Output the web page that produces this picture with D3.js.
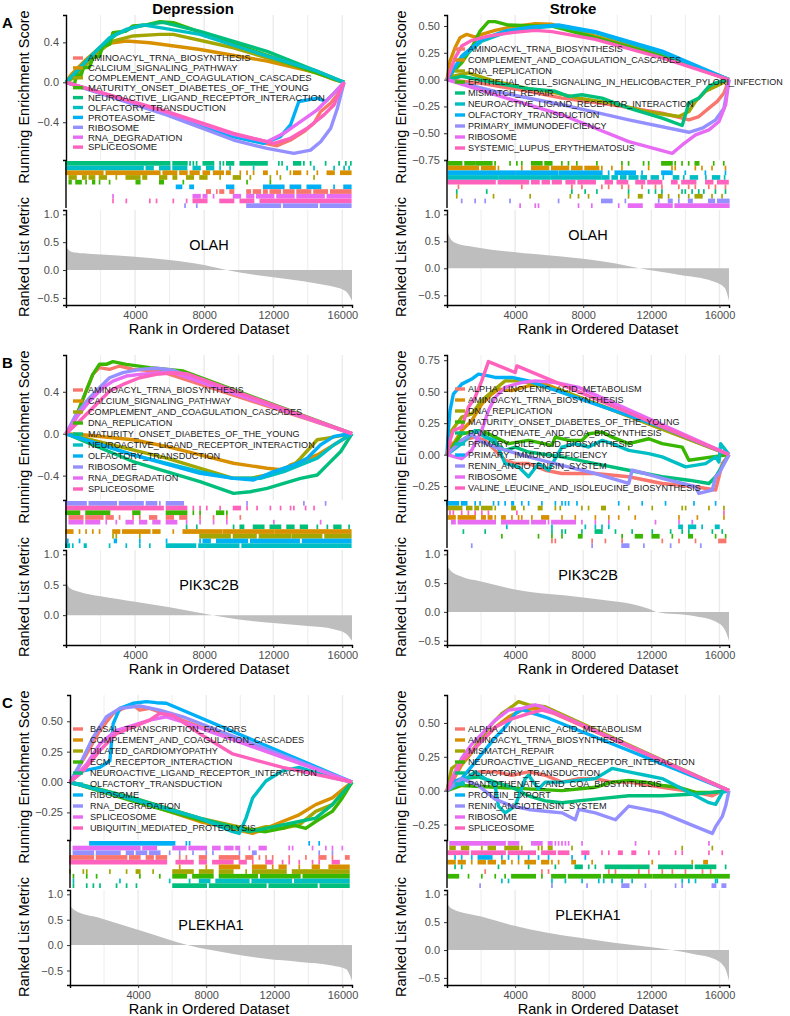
<!DOCTYPE html>
<html>
<head>
<meta charset="utf-8" />
<title>GSEA Depression / Stroke</title>
<script src="https://d3js.org/d3.v7.min.js"></script>
<style>
  body { margin: 0; background: #ffffff; }
  svg text { font-family: 'Liberation Sans', Arial, sans-serif; }
</style>
</head>
<body>
<svg id="viz" width="790" height="1016"></svg>
<script>

// ---------- shared ----------
var maxRank = 16560;
var hue10 = ["#F8766D","#D89000","#A3A500","#39B600","#00BF7D","#00BFC4","#00B0F6","#9590FF","#E76BF3","#FF62BC"];
var diseases = ["Depression", "Stroke"];
var rowLetters = ["A", "B", "C"];
var geneNames = ["OLAH", "PIK3C2B", "PLEKHA1"];
var rankTicksX = [4000, 8000, 12000, 16000];

// ---------- A: Depression / OLAH ----------
var depOlahTerms = ["AMINOACYL_TRNA_BIOSYNTHESIS","CALCIUM_SIGNALING_PATHWAY","COMPLEMENT_AND_COAGULATION_CASCADES","MATURITY_ONSET_DIABETES_OF_THE_YOUNG","NEUROACTIVE_LIGAND_RECEPTOR_INTERACTION","OLFACTORY_TRANSDUCTION","PROTEASOME","RIBOSOME","RNA_DEGRADATION","SPLICEOSOME"];
var depOlahES = [
  [[0,0],[5820,-0.309],[9700,-0.544],[12222,-0.635],[12998,-0.578],[13774,-0.494],[14356,-0.41],[14744,-0.292],[15326,-0.208],[15714,-0.124],[16100,0]],
  [[0,0],[291,0.077],[679,0.144],[1164,0.228],[1940,0.346],[2716,0.396],[3492,0.413],[4850,0.396],[7760,0.329],[11640,0.212],[14550,0.094],[15520,0.027],[16100,0]],
  [[0,0],[582,0.06],[1164,0.178],[1940,0.312],[2716,0.413],[3880,0.464],[5432,0.48],[6208,0.48],[9700,0.346],[13580,0.144],[16100,0]],
  [[0,0],[485,-0.017],[621,0.071],[873,0.071],[1009,0.144],[1358,0.151],[1552,0.245],[1940,0.262],[2134,0.363],[2522,0.38],[2716,0.497],[3492,0.514],[3880,0.564],[4656,0.575],[5432,0.608],[6208,0.598],[16100,0]],
  [[0,0],[582,0.094],[1164,0.212],[1940,0.346],[2910,0.48],[3880,0.548],[5044,0.588],[5626,0.6],[7760,0.51],[11640,0.31],[14550,0.11],[16100,0]],
  [[0,0],[776,0.144],[1552,0.279],[2522,0.447],[3492,0.531],[4462,0.575],[5432,0.548],[7760,0.48],[11640,0.262],[14550,0.111],[16100,0]],
  [[0,0],[5820,-0.309],[9700,-0.544],[11446,-0.612],[12416,-0.544],[12998,-0.427],[13483,-0.192],[14550,-0.158],[15035,-0.192],[15520,-0.108],[16100,0]],
  [[0,0],[5820,-0.326],[9700,-0.578],[11640,-0.662],[13192,-0.712],[14162,-0.679],[14744,-0.595],[15326,-0.46],[15714,-0.26],[16100,0]],
  [[0,0],[5820,-0.302],[9700,-0.521],[11640,-0.595],[12610,-0.511],[13580,-0.393],[14550,-0.275],[15520,-0.108],[16100,0]],
  [[0,0],[5820,-0.292],[9700,-0.511],[12028,-0.612],[12998,-0.561],[13968,-0.46],[14938,-0.326],[15520,-0.225],[16100,0]]
];
var depOlahHits = [
  [[8150,8350],[8730],[8920,9120],[9500,9700],[10480,10670],[10860,11250],[11450,11640],[11830,12410],[12600,13190],[13380,14160],[14360,15130],[15330,16490]],
  [[0,2130],[2330,5430],[5630,6400],[6600,7000],[7200,7700],[7950,8300],[8550,9100],[9300,9500],[10090],[10480],[10860],[11450,11640],[12220],[12990],[13190,13580],[13970],[14550],[15130,15520],[15910,16490]],
  [[190,580],[970,1160],[1350,1650],[1940,2330],[2910],[3490,4270],[4460,4660],[5430,5820],[6210,6400],[6990,7370],[7760,8150],[8920],[9700,10090],[10670],[11830],[12410],[14360]],
  [[190,290],[580,870],[1160],[1550,1650],[1940],[2520],[4070,4270],[5430,5630],[6790],[10480],[11830]],
  [[0,6000],[6200,7000],[7180],[7370],[7560],[7950,8540],[8920],[9110],[9310,9700],[10090,11640],[12320],[12510],[13190,13580],[13770],[14160],[15030],[15810],[16200],[16490]],
  [[0,4460],[4650,5040],[5430,6010],[6200,6980],[7370,7760],[8150,8540],[8920],[9500],[10860],[12800],[14360],[15520],[16100],[16390]],
  [[6400,6690],[7180,7370],[9310,9700],[11450,12610],[12990,13580],[13970,14740],[15520],[16100,16490]],
  [[6890],[7570],[10480,12410],[12600,14550],[14740,16490]],
  [[2720],[7370,7760],[7950,8150],[8540],[9700,10090],[10480,10860],[11050,12020],[12220,13190],[13380,14940],[15130,16490]],
  [[2720],[3490],[4850],[5240],[6210],[6980],[7370,8150],[8920,9700],[10090,10860],[11250,16490]]
];
var depOlahRug = [4,5,1,2,3,6,0,8,9,7];
var depOlahMetric = [[1,0.42],[300,0.33],[1000,0.3],[2000,0.28],[4000,0.24],[6000,0.18],[8000,0.09],[9300,0],[11000,-0.09],[13000,-0.17],[14500,-0.24],[15500,-0.3],[16200,-0.38],[16560,-0.55]];
var depOlahEsTicks = [0.4, 0, -0.4];
var depOlahRankTicks = [1, 0.5, 0, -0.5];

// ---------- A: Stroke / OLAH ----------
var strokeOlahTerms = ["AMINOACYL_TRNA_BIOSYNTHESIS","COMPLEMENT_AND_COAGULATION_CASCADES","DNA_REPLICATION","EPITHELIAL_CELL_SIGNALING_IN_HELICOBACTER_PYLORI_INFECTION","MISMATCH_REPAIR","NEUROACTIVE_LIGAND_RECEPTOR_INTERACTION","OLFACTORY_TRANSDUCTION","PRIMARY_IMMUNODEFICIENCY","RIBOSOME","SYSTEMIC_LUPUS_ERYTHEMATOSUS"];
var strokeOlahES = [
  [[0,0],[1844,-0.031],[4787,-0.109],[6749,-0.172],[9692,-0.234],[12635,-0.313],[14205,-0.375],[14793,-0.344],[15382,-0.266],[15873,-0.203],[16265,-0.125],[16560,0]],
  [[0,0],[177,0.172],[471,0.297],[765,0.391],[1158,0.422],[1648,0.397],[2040,0.422],[2825,0.459],[3806,0.491],[5180,0.522],[6161,0.516],[8711,0.406],[12635,0.234],[16560,0]],
  [[0,0],[275,0.031],[1256,0.063],[2825,-0.016],[4787,-0.084],[6161,-0.116],[7730,-0.172],[9692,-0.219],[11654,-0.297],[13616,-0.344],[14205,-0.297],[14597,-0.203],[15186,-0.109],[15774,-0.063],[16560,0]],
  [[0,0],[373,0.078],[863,0.156],[1452,0.297],[1942,0.453],[2433,0.541],[2825,0.541],[3610,0.509],[5180,0.5],[6161,0.5],[8711,0.391],[12635,0.219],[16560,0]],
  [[0,0],[863,0.031],[2825,-0.031],[4787,-0.084],[6357,-0.109],[7142,-0.156],[7926,-0.141],[9104,-0.172],[10673,-0.266],[12635,-0.359],[13812,-0.428],[14205,-0.219],[14793,-0.172],[15382,-0.063],[15774,-0.031],[16560,0]],
  [[0,0],[863,0.203],[2040,0.359],[3414,0.438],[4787,0.478],[6357,0.5],[8711,0.438],[12635,0.25],[16560,0]],
  [[0,0],[863,0.219],[2040,0.375],[3414,0.453],[4983,0.491],[6553,0.509],[8711,0.447],[12635,0.266],[16560,0]],
  [[0,0],[2825,-0.109],[6749,-0.234],[10673,-0.375],[14205,-0.491],[14990,-0.453],[15774,-0.375],[16265,-0.266],[16560,0]],
  [[0,0],[2825,-0.141],[6749,-0.328],[10673,-0.578],[13224,-0.688],[13812,-0.609],[14597,-0.516],[15382,-0.469],[15971,-0.391],[16363,-0.234],[16560,0]],
  [[0,0],[471,0.203],[863,0.313],[1452,0.366],[2433,0.406],[3806,0.438],[5180,0.459],[6161,0.447],[8711,0.375],[12635,0.203],[16560,0]]
];
var strokeOlahHits = [
  [[670],[4390],[7330],[7920],[9090],[9490],[10270],[10660],[11450],[12240],[12620],[13610],[14190],[14580],[15370],[15760],[16350]],
  [[80,1840],[2040,2820],[3020],[4390],[4980,5960],[6150,7130],[7330,7920],[8110,8900],[9090],[9680],[10270],[11840],[13210],[13400],[14580],[14970],[15560],[16350]],
  [[570],[2730],[4880],[7240],[7720],[8310],[10660],[11250,11450],[12430,12620],[13010],[13610],[14190],[14580,14970],[15560],[16150]],
  [[80,860],[1060,1650],[1750,2630],[2820],[3700],[4100],[4390],[4980,5570],[5760,6150],[6740],[7130],[7620],[8800],[10270],[10660],[11540],[11840],[12620,13210],[13400],[13800],[14190],[14580,14780],[15660],[16250]],
  [[570],[2330],[7330],[8110],[8800],[10660],[11840],[12240],[12620],[13800],[13990],[14390],[14780],[15080],[15760],[16350]],
  [[80,3000],[3100,6000],[6100,9000],[9100,9500],[9700,10000],[10200,10500],[10700,11200],[11400,11700],[12000,12400],[12700],[13300,13600],[13900],[14300,14700],[15200],[15600,16000],[16300]],
  [[80,4000],[4100,6500],[6600,9090],[9490],[9880,11050],[11450],[12620,13210],[13990],[15170],[16350]],
  [[860],[1650],[2240],[3700],[6550],[9090,9680],[10470],[12430],[13010,13210],[13610],[14190,14390],[15370,15700],[15900,16550]],
  [[4290],[5180],[5370],[7720],[8500],[10080],[10660,11450],[12240,13210],[13400,16550]],
  [[80,2820],[3020,4780],[4980,5400],[5600,6000],[6200,6700],[7000,7500],[7700,8700],[9300,9700],[10000,10600],[11100,11600],[11800,12600],[13200,13500],[13800,14600],[15200,15600],[15900,16500]]
];
var strokeOlahRug = [3,1,6,5,9,0,4,2,7,8];
var strokeOlahMetric = [[1,0.7],[200,0.55],[500,0.47],[1500,0.4],[3900,0.3],[7850,0.18],[10700,0.04],[11300,0],[13600,-0.12],[15600,-0.24],[16300,-0.36],[16560,-0.6]];
var strokeOlahEsTicks = [0.5, 0.25, 0, -0.25, -0.5, -0.75];
var strokeOlahRankTicks = [1, 0.5, 0, -0.5];

// ---------- B: Depression / PIK3C2B ----------
var depPikTerms = ["AMINOACYL_TRNA_BIOSYNTHESIS","CALCIUM_SIGNALING_PATHWAY","COMPLEMENT_AND_COAGULATION_CASCADES","DNA_REPLICATION","MATURITY_ONSET_DIABETES_OF_THE_YOUNG","NEUROACTIVE_LIGAND_RECEPTOR_INTERACTION","OLFACTORY_TRANSDUCTION","RIBOSOME","RNA_DEGRADATION","SPLICEOSOME"];
var depPikES = [
  [[0,0],[582,0.15],[1164,0.406],[1552,0.566],[1940,0.63],[2522,0.614],[3104,0.646],[3880,0.614],[4656,0.605],[5432,0.598],[16560,0]],
  [[0,0],[970,-0.01],[3880,-0.058],[5820,-0.122],[7760,-0.202],[9700,-0.282],[11640,-0.33],[12610,-0.346],[12998,-0.298],[13580,-0.266],[14550,-0.202],[15520,-0.106],[16560,0]],
  [[0,0],[5820,-0.234],[9700,-0.426],[10670,-0.426],[11640,-0.394],[12610,-0.33],[13192,-0.298],[13580,-0.234],[14550,-0.058],[15132,-0.042],[16560,0]],
  [[0,0],[388,0.086],[776,0.246],[1164,0.406],[1552,0.566],[1940,0.662],[2328,0.662],[2716,0.688],[3492,0.662],[4850,0.63],[6790,0.598],[16560,0]],
  [[0,0],[3880,-0.266],[7760,-0.458],[9700,-0.57],[10670,-0.554],[11640,-0.522],[12610,-0.474],[13580,-0.426],[14550,-0.394],[15132,-0.298],[15908,-0.17],[16560,0]],
  [[0,0],[3880,-0.202],[7760,-0.362],[9700,-0.426],[11252,-0.426],[12610,-0.362],[13580,-0.298],[14550,-0.234],[15520,-0.106],[16560,0]],
  [[0,0],[3880,-0.202],[7760,-0.378],[9700,-0.426],[10864,-0.442],[12028,-0.362],[13192,-0.298],[13968,-0.234],[14744,-0.106],[15520,-0.026],[16100,-0.01],[16560,0]],
  [[0,0],[582,0.182],[1358,0.342],[1940,0.438],[2522,0.534],[3298,0.582],[4268,0.614],[5238,0.624],[6208,0.605],[16560,0]],
  [[0,0],[582,0.15],[1358,0.31],[2134,0.438],[2716,0.502],[3492,0.55],[4268,0.566],[5432,0.582],[6208,0.582],[16560,0]],
  [[0,0],[776,0.118],[1746,0.278],[2522,0.406],[3298,0.47],[4268,0.534],[5238,0.566],[6208,0.582],[6984,0.573],[16560,0]]
];
var depPikHits = [
  [[190,970],[1160,2130],[2330,2720],[3100],[3880],[4270],[4850,5240],[5820,6210],[6600,6980],[7760],[8540],[9310],[10090]],
  [[0,390],[780],[1160],[1550],[1940],[2720,3100],[3290,4850],[5040,5430],[6210],[6790,9000],[9100,12000],[12100,16490]],
  [[2720],[2910],[4270],[7760,9500],[9700,11000],[11200,13000],[13100,14800],[15000,16490]],
  [[0,780],[1160,2520],[3880,4270],[5820,6980],[7370],[7760],[8730,9120],[9310]],
  [[6980],[7570],[9700],[10090,10280],[10860,11450],[11830,12420],[12800,13190],[13580,13970],[14550],[15130],[15520,15910],[16390]],
  [[0,190],[390],[1070,1160],[2520],[3490],[4270],[4850],[5820,7500],[7700,10000],[10200,16490]],
  [[100],[780],[2810,2910],[4270],[5820],[7760],[7950,8340],[8730,10500],[10700,13500],[13700,16490]],
  [[0,1160],[1350,2910],[3100,4460],[4660,5240],[5430],[5820,6790],[10480],[13770],[15030]],
  [[190,970],[1160,1940],[2330],[2910],[3490,3880],[4270,4660],[5040,5430],[5820,6400],[6980],[7760],[8540],[9310],[12030],[14740]],
  [[0,5620],[5820,6980],[7370],[7760],[8150],[8920],[9700,10090],[10480],[11060],[11830],[12420],[13000],[13190],[13870],[14360]]
];
var depPikRug = [7,9,3,0,8,4,1,2,6,5];
var depPikMetric = [[1,0.55],[200,0.45],[800,0.38],[2000,0.31],[4000,0.22],[6000,0.13],[8500,0],[10000,-0.07],[12000,-0.13],[14000,-0.18],[15500,-0.23],[16200,-0.3],[16560,-0.42]];
var depPikEsTicks = [0.4, 0, -0.4];
var depPikRankTicks = [1, 0.5, 0];

// ---------- B: Stroke / PIK3C2B ----------
var strokePikTerms = ["ALPHA_LINOLENIC_ACID_METABOLISM","AMINOACYL_TRNA_BIOSYNTHESIS","DNA_REPLICATION","MATURITY_ONSET_DIABETES_OF_THE_YOUNG","PANTOTHENATE_AND_COA_BIOSYNTHESIS","PRIMARY_BILE_ACID_BIOSYNTHESIS","PRIMARY_IMMUNODEFICIENCY","RENIN_ANGIOTENSIN_SYSTEM","RIBOSOME","VALINE_LEUCINE_AND_ISOLEUCINE_BIOSYNTHESIS"];
var strokePikES = [
  [[0,0],[275,0.087],[863,0.113],[1648,0.139],[2237,0.113],[2825,0.034],[3414,-0.045],[4002,-0.071],[4787,-0.071],[5768,-0.124],[6749,-0.15],[8711,-0.15],[10673,-0.176],[12635,-0.229],[14597,-0.255],[15774,-0.281],[16167,-0.071],[16560,0]],
  [[0,0],[863,0.192],[1452,0.271],[2040,0.402],[2629,0.481],[3021,0.521],[3806,0.508],[4787,0.547],[5768,0.56],[6749,0.508],[16560,0]],
  [[0,0],[275,0.192],[863,0.297],[1452,0.323],[2040,0.429],[2825,0.521],[3414,0.586],[3806,0.586],[4395,0.586],[5376,0.547],[6749,0.508],[16560,0]],
  [[0,0],[863,0.166],[2040,0.192],[2825,0.139],[3610,0.087],[4787,0.113],[6161,0.074],[6357,0.139],[7142,0.113],[7926,0.113],[8319,0.166],[9104,0.179],[9692,0.139],[10673,0.087],[11850,0.126],[12635,0.087],[13812,0.06],[14205,-0.045],[15578,-0.018],[16560,0]],
  [[0,0],[863,0.113],[1844,0.192],[2825,0.087],[3414,0.034],[4002,0.06],[4787,0.021],[6749,-0.018],[8711,-0.071],[10673,-0.124],[12635,-0.176],[14205,-0.203],[15382,-0.229],[15774,-0.176],[16560,0]],
  [[0,0],[863,0.087],[1648,0.192],[2237,0.139],[2825,0.113],[3414,-0.071],[4199,-0.097],[4787,-0.176],[5376,-0.071],[5965,-0.124],[6749,0.06],[7534,0.087],[8319,0.06],[9104,0.113],[9692,0.087],[10673,0.034],[11850,0.008],[12635,-0.018],[14008,-0.097],[15186,-0.071],[15774,-0.018],[15971,-0.058],[16069,0.087],[16560,0]],
  [[0,0],[78,0.192],[177,0.35],[373,0.481],[863,0.56],[1452,0.6],[1844,0.639],[2433,0.626],[2825,0.613],[3806,0.613],[4787,0.586],[8711,0.402],[12635,0.218],[16560,0]],
  [[0,0],[863,0.113],[1452,0.166],[1844,0.113],[2825,0.06],[4787,-0.018],[6749,-0.085],[8711,-0.15],[10673,-0.229],[10869,-0.124],[11654,-0.15],[12635,-0.189],[14597,-0.255],[14793,-0.308],[15578,-0.281],[15774,-0.176],[15971,-0.15],[16560,0]],
  [[0,0],[471,-0.018],[863,-0.032],[1452,0.034],[2040,0.192],[2433,0.35],[2825,0.455],[3414,0.534],[4395,0.573],[5180,0.586],[6357,0.573],[7730,0.534],[16560,0]],
  [[0,0],[177,0.113],[373,0.192],[863,0.218],[1256,0.376],[1648,0.455],[2040,0.586],[2433,0.739],[4002,0.652],[4101,0.705],[16560,0]]
];
var strokePikHits = [
  [[6160],[6360],[8520],[9300],[10280],[12640],[13620],[14590],[15970,16360]],
  [[80,470],[670,1650],[2040,2240],[2430,2630],[2830],[3220,3410],[3810],[4200],[4390],[4980],[5570,5960],[6750],[7530],[8710],[9500],[10080],[11050],[13620],[14700],[16260]],
  [[80,860],[1160,1450],[1650,1840],[2040,2630],[2830],[3810,4000],[4510],[5370,5570],[6360],[6650],[7920],[8310],[9090,9290],[10670],[12050],[13810],[14010],[15380],[16260]],
  [[3220],[5370],[6160],[6750],[7730,7920],[10280],[11070,11460],[12050,12440],[13230],[14200,14400],[15770],[16360]],
  [[960],[2240],[6160],[6750],[6950],[7920],[8710,9100],[9890],[10870],[12050],[13130],[13810],[14200],[15580],[16160]],
  [[3510],[6160],[8120],[8710],[9100],[9500],[13620,13810],[14200,14590],[14980],[15770,15970]],
  [[0,670],[860,1160],[1650],[1940],[2730],[3020],[3410],[3810,3900],[4390],[4790],[5570],[6360],[6750],[6950],[7140],[7630],[10080],[11460],[12830],[14500],[15770]],
  [[1450],[8520],[10280,10670],[11560],[13130],[14900]],
  [[280,470],[670,2830],[3220,4790],[4980,5770],[5960],[6160,7530],[7920],[8710],[9500],[12240],[13620],[14400]],
  [[170],[370],[860],[1250],[1650],[2040],[2430],[4100],[16260]]
];
var strokePikRug = [6,2,9,1,8,5,4,3,0,7];
var strokePikMetric = [[1,0.8],[200,0.72],[800,0.62],[2000,0.53],[4000,0.39],[8000,0.25],[11800,0.06],[12300,0],[14500,-0.07],[15700,-0.16],[16300,-0.3],[16560,-0.5]];
var strokePikEsTicks = [0.75, 0.5, 0.25, 0, -0.25];
var strokePikRankTicks = [1, 0.5, 0, -0.5];

// ---------- C: Depression / PLEKHA1 ----------
var depPlekTerms = ["BASAL_TRANSCRIPTION_FACTORS","COMPLEMENT_AND_COAGULATION_CASCADES","DILATED_CARDIOMYOPATHY","ECM_RECEPTOR_INTERACTION","NEUROACTIVE_LIGAND_RECEPTOR_INTERACTION","OLFACTORY_TRANSDUCTION","RIBOSOME","RNA_DEGRADATION","SPLICEOSOME","UBIQUITIN_MEDIATED_PROTEOLYSIS"];
var depPlekES = [
  [[0,0],[975,0.231],[1755,0.425],[2535,0.564],[3120,0.606],[3705,0.634],[4095,0.592],[4680,0.606],[16560,0]],
  [[0,0],[3705,-0.145],[7605,-0.325],[10725,-0.423],[11505,-0.381],[12480,-0.325],[13455,-0.27],[14430,-0.186],[15405,-0.131],[16560,0]],
  [[0,0],[3705,-0.131],[7605,-0.297],[10725,-0.395],[11505,-0.367],[12480,-0.381],[13455,-0.353],[14430,-0.242],[15405,-0.186],[16560,0]],
  [[0,0],[3705,-0.158],[7605,-0.311],[9945,-0.381],[11505,-0.409],[12480,-0.381],[13065,-0.353],[13845,-0.381],[14430,-0.325],[15405,-0.242],[15990,-0.131],[16560,0]],
  [[0,0],[3705,-0.131],[7605,-0.297],[10530,-0.409],[11505,-0.381],[13455,-0.325],[14430,-0.297],[15405,-0.186],[16560,0]],
  [[0,0],[3705,-0.145],[7605,-0.297],[9555,-0.409],[9945,-0.423],[10335,-0.297],[10725,-0.131],[11505,0.008],[12480,0.092],[13455,0.12],[14430,0.078],[15405,0.036],[16560,0]],
  [[0,0],[780,0.092],[1755,0.12],[2340,0.175],[2535,0.48],[2925,0.606],[3705,0.648],[4485,0.662],[5070,0.653],[5655,0.648],[16560,0]],
  [[0,0],[585,0.147],[1365,0.37],[2145,0.537],[2925,0.606],[4095,0.626],[5265,0.592],[6630,0.537],[16560,0]],
  [[0,0],[975,0.147],[1755,0.314],[2730,0.425],[3705,0.467],[4680,0.509],[5655,0.537],[6630,0.495],[16560,0]],
  [[0,0],[780,0.092],[1755,0.259],[2730,0.398],[3705,0.453],[4680,0.509],[5265,0.564],[6045,0.55],[7605,0.398],[9555,0.231],[12480,0.12],[16560,0]]
];
var depPlekHits = [
  [[0,1370],[1560,3320],[3510,4100],[4490,4880],[5070,5660],[6440],[6830],[7610,8000],[8780,9950],[10340,10730],[11120],[11510],[11900],[12870],[13850],[14630,15020],[15410],[16190,16380]],
  [[6440],[8000],[8780,9950],[10730,11510],[11900],[12290,12680],[13460],[14240,14630],[15220,16380]],
  [[0],[780],[980],[2340],[3320],[3900,4100],[4880],[6050,7220],[7610,8390],[8780,9560],[10340],[10730,12680],[13070,16380]],
  [[200],[980],[1560],[4100],[5270],[6050,6830],[7220,8390],[8780,11000],[11200,13500],[13700,16380]],
  [[200],[980],[1370],[1760],[2730],[3320],[3900],[6050,8000],[8200,11500],[11700,14500],[14700,16380]],
  [[200],[2930],[5850],[7020],[7610,8200],[8580,10500],[10700,13000],[13200,16380]],
  [[1170,6140],[6830],[7020],[14040],[14630]],
  [[200,1370],[1560,2930],[3320,3710],[3900,4490],[4680,5270],[5850],[6440],[7220],[8000],[8390],[9950],[10730,10920],[14630],[15410]],
  [[200,4100],[4290,5070],[6050,6800],[7000,8000],[8390,8800],[9100,9560],[9750,9950],[10530],[11120,11510],[12870],[13070],[14240],[15020],[15410],[15990]],
  [[0,5660],[6240,7220],[7610,8000],[8390,9560],[9950,10340],[10730],[11510,11900],[12480],[12870],[13460],[14240],[14630],[15410,15800]]
];
var depPlekRug = [6,8,7,0,9,1,2,3,5,4];
var depPlekMetric = [[1,0.77],[300,0.68],[1800,0.53],[3700,0.33],[5600,0.13],[6900,0],[9500,-0.17],[11500,-0.27],[13500,-0.33],[15400,-0.4],[16200,-0.47],[16560,-0.7]];
var depPlekEsTicks = [0.5, 0.25, 0, -0.25];
var depPlekRankTicks = [1, 0.5, 0, -0.5];

// ---------- C: Stroke / PLEKHA1 ----------
var strokePlekTerms = ["ALPHA_LINOLENIC_ACID_METABOLISM","AMINOACYL_TRNA_BIOSYNTHESIS","MISMATCH_REPAIR","NEUROACTIVE_LIGAND_RECEPTOR_INTERACTION","OLFACTORY_TRANSDUCTION","PANTOTHENATE_AND_COA_BIOSYNTHESIS","PROTEIN_EXPORT","RENIN_ANGIOTENSIN_SYSTEM","RIBOSOME","SPLICEOSOME"];
var strokePlekES = [
  [[0,0],[863,0.063],[1844,0.139],[2825,0.139],[3806,0.114],[4787,0.139],[5768,0.114],[6749,0.063],[7730,0.089],[8711,0.089],[9692,0.063],[10673,0.063],[12635,0.025],[14597,-0.013],[15578,-0.038],[16167,0],[16560,0]],
  [[0,0],[863,0.19],[1844,0.342],[2825,0.468],[3610,0.544],[4395,0.595],[5180,0.607],[5768,0.6],[16560,0]],
  [[0,0],[275,0.164],[863,0.215],[1452,0.291],[2040,0.392],[2629,0.493],[3217,0.569],[3806,0.62],[4199,0.658],[4787,0.633],[5768,0.62],[16560,0]],
  [[0,0],[863,0.038],[2825,0.025],[4787,0.013],[6749,0],[8711,0.025],[9692,0.063],[10673,0.076],[11654,0.063],[12635,0.038],[13616,0.025],[14597,-0.013],[15578,-0.013],[16560,0]],
  [[0,0],[863,0.089],[1844,0.101],[2825,0.063],[3806,0.025],[4787,-0.038],[5768,-0.076],[6749,-0.089],[7730,-0.076],[8711,-0.063],[10673,-0.038],[12635,-0.038],[14597,-0.025],[15578,-0.013],[16560,0]],
  [[0,0],[863,0.063],[1648,0.139],[2237,0.089],[2825,0.038],[3021,-0.114],[3414,-0.164],[4002,-0.114],[4591,0.089],[4787,0.114],[5376,0.013],[5768,0.063],[6749,0.063],[8711,0.089],[9692,0.164],[10673,0.139],[11654,0.114],[12635,0.089],[14597,-0.038],[15382,-0.089],[15774,-0.101],[16167,-0.013],[16560,0]],
  [[0,0],[275,0.063],[863,0.089],[1844,0.24],[2825,0.392],[3414,0.468],[4002,0.569],[4395,0.6],[4787,0.582],[5768,0.544],[16560,0]],
  [[0,0],[863,0.089],[1844,0.038],[2825,-0.063],[3806,-0.114],[4787,-0.139],[5768,-0.152],[6749,-0.164],[7534,-0.215],[7730,-0.139],[8711,-0.164],[9888,-0.215],[10673,-0.114],[11654,-0.139],[12635,-0.164],[14597,-0.266],[15578,-0.316],[15774,-0.266],[16167,-0.19],[16363,-0.114],[16560,0]],
  [[0,0],[471,0.139],[863,0.24],[1452,0.342],[2040,0.417],[2825,0.519],[3610,0.595],[4395,0.607],[5180,0.633],[5572,0.62],[16560,0]],
  [[0,0],[863,0.215],[2040,0.367],[2825,0.468],[3806,0.531],[4787,0.569],[5572,0.595],[6357,0.569],[16560,0]]
];
var strokePlekHits = [
  [[2240],[5570],[5960],[9500],[9890],[11260],[11850],[12640],[13230],[14000],[15000],[15480]],
  [[80,470],[670,1060],[1450],[1840,2240],[2430,2830],[3220,3410],[3810],[4200],[4590,5180],[5570,5960],[6160],[6550],[7340,7530],[8520],[12050],[14400],[15090,15280]],
  [[180,470],[860,1260],[2040],[2430,2830],[3410,4200],[4390],[5370],[5570],[5960,6160],[7340],[13810],[15580]],
  [[80,670],[1260],[2040],[2830],[3410],[3810,5180],[5570],[6160,6950],[7140,9000],[9200,12000],[12100,16560]],
  [[470],[860],[3020],[4790],[6360],[7530,7930],[8320],[8710],[9300,11850],[12440,14400],[14590,15770],[16360]],
  [[3220],[3610],[6160],[6950],[7930],[8910],[9200],[9690],[10280],[10870],[13810],[14200],[14590],[15770],[15870]],
  [[470],[860],[1450],[1840,2630],[3220],[3610],[4200],[4790],[5370],[5960],[7340],[8120]],
  [[1940],[6160],[8220],[10280,10670],[11650],[13420],[13810],[15580,15770],[16160,16360]],
  [[180,3410],[3610,4200],[4980,5570],[5960,6160],[6360],[6550],[6750],[6950],[7140],[7930],[11070],[15380]],
  [[80,1260],[1450,3410],[3610,5180],[5570,6360],[6550,7140],[7930,8320],[9100],[9500],[10080,10280],[10870,11070],[11850],[12440],[13420],[13810],[15380],[16160]]
];
var strokePlekRug = [8,2,9,6,1,4,0,3,5,7];
var strokePlekMetric = [[1,0.83],[300,0.74],[2000,0.6],[3900,0.44],[5900,0.31],[7800,0.22],[9800,0.13],[11800,0.06],[13200,0],[14600,-0.08],[15700,-0.16],[16300,-0.31],[16560,-0.55]];
var strokePlekEsTicks = [0.5, 0.25, 0, -0.25];
var strokePlekRankTicks = [1, 0.5, 0, -0.5];

// ---------- layout table ----------
var panels = [
  {row:0, col:0, x0:66, terms:depOlahTerms, es:depOlahES, hits:depOlahHits, rug:depOlahRug, metric:depOlahMetric, esTicks:depOlahEsTicks, esDigits:1, rankTicks:depOlahRankTicks, legY:58, legStep:9.9, legText:88, legFont:9.5},
  {row:0, col:1, x0:447, terms:strokeOlahTerms, es:strokeOlahES, hits:strokeOlahHits, rug:strokeOlahRug, metric:strokeOlahMetric, esTicks:strokeOlahEsTicks, esDigits:2, rankTicks:strokeOlahRankTicks, legY:49, legStep:11, legText:468, legFont:9.05},
  {row:1, col:0, x0:66, terms:depPikTerms, es:depPikES, hits:depPikHits, rug:depPikRug, metric:depPikMetric, esTicks:depPikEsTicks, esDigits:1, rankTicks:depPikRankTicks, legY:50, legStep:11, legText:88, legFont:9.1},
  {row:1, col:1, x0:447, terms:strokePikTerms, es:strokePikES, hits:strokePikHits, rug:strokePikRug, metric:strokePikMetric, esTicks:strokePikEsTicks, esDigits:2, rankTicks:strokePikRankTicks, legY:49, legStep:11, legText:468, legFont:9.1},
  {row:2, col:0, x0:70, terms:depPlekTerms, es:depPlekES, hits:depPlekHits, rug:depPlekRug, metric:depPlekMetric, esTicks:depPlekEsTicks, esDigits:2, rankTicks:depPlekRankTicks, legY:49, legStep:11, legText:90, legFont:9.1},
  {row:2, col:1, x0:447, terms:strokePlekTerms, es:strokePlekES, hits:strokePlekHits, rug:strokePlekRug, metric:strokePlekMetric, esTicks:strokePlekEsTicks, esDigits:2, rankTicks:strokePlekRankTicks, legY:49, legStep:11, legText:468, legFont:9.1}
];

var svg = d3.select("#viz");
svg.append("rect").attr("width", 790).attr("height", 1016).attr("fill", "#ffffff");

function fmtTick(v, digits) {
  return (v < 0 ? "\u2212" : "") + Math.abs(v).toFixed(digits);
}

function styleAxis(sel) {
  sel.select(".domain").attr("stroke", "#000").attr("stroke-width", 1.4);
  sel.selectAll(".tick line").attr("stroke", "#333").attr("stroke-width", 1);
  sel.selectAll(".tick text").attr("fill", "#4D4D4D").style("font-size", "11px")
    .style("font-family", "'Liberation Sans', Arial, sans-serif");
}

panels.forEach(function(p) {
  var R = p.row * 340;
  var x1 = p.col ? 729 : 352;
  var x = d3.scaleLinear().domain([0, maxRank]).range([p.x0, x1]);

  var esVals = [];
  p.es.forEach(function(c) { c.forEach(function(d) { esVals.push(d[1]); }); });
  var lo = d3.min(esVals), hi = d3.max(esVals), pad = (hi - lo) * 0.05;
  var y = d3.scaleLinear().domain([lo - pad, hi + pad]).range([R + 160, R + 15]);

  var mLo = d3.min(p.metric, function(d) { return d[1]; });
  var mHi = Math.max(1, d3.max(p.metric, function(d) { return d[1]; }));
  var mPad = (mHi - mLo) * 0.05;
  var yM = d3.scaleLinear().domain([mLo - mPad, mHi + mPad]).range([R + 305, R + 210]);

  var g = svg.append("g");

  // vertical grid lines in ES and metric panels
  var grid = d3.range(2000, maxRank, 2000);
  [[R + 15, R + 160], [R + 210, R + 305]].forEach(function(b) {
    g.append("g").selectAll("line").data(grid).join("line")
      .attr("x1", function(d) { return x(d); }).attr("x2", function(d) { return x(d); })
      .attr("y1", b[0]).attr("y2", b[1])
      .attr("stroke", "#EBEBEB")
      .attr("stroke-width", function(d) { return d % 4000 ? 0.9 : 1.4; });
  });

  // running enrichment score curves
  var line = d3.line().x(function(d) { return x(d[0]); }).y(function(d) { return y(d[1]); });
  g.append("g").selectAll("path").data(p.es).join("path")
    .attr("d", line)
    .attr("fill", "none")
    .attr("stroke", function(d, i) { return hue10[i]; })
    .attr("stroke-width", 3.4)
    .attr("stroke-linejoin", "round");

  // legend inside the ES panel
  var keyX = p.col ? 455 : 73;
  var leg = g.append("g");
  p.terms.forEach(function(t, i) {
    var ly = R + p.legY + i * p.legStep;
    leg.append("line").attr("x1", keyX).attr("x2", keyX + 10).attr("y1", ly).attr("y2", ly)
      .attr("stroke", hue10[i]).attr("stroke-width", 3.4);
    leg.append("text").attr("x", p.legText).attr("y", ly + 3.3)
      .attr("font-size", p.legFont).attr("fill", "#1a1a1a").text(t);
  });

  // ES axis
  var ay = g.append("g").attr("transform", "translate(" + p.x0 + ",0)")
    .call(d3.axisLeft(y).tickValues(p.esTicks)
      .tickFormat(function(v) { return fmtTick(v, p.esDigits); })
      .tickSizeOuter(0).tickSize(3).tickPadding(4));
  styleAxis(ay);

  // rug of gene set hits
  var rowH = 4.7;
  p.rug.forEach(function(ti, k) {
    var top = R + 161 + k * rowH;
    var ivs = p.hits[ti].map(function(h) { return h.length === 1 ? [h[0], h[0]] : h; });
    g.append("g").selectAll("rect").data(ivs).join("rect")
      .attr("x", function(d) { return x(d[0]) - 0.8; })
      .attr("width", function(d) { return Math.max(1.7, x(d[1]) - x(d[0]) + 1.6); })
      .attr("y", top).attr("height", rowH)
      .attr("fill", hue10[ti]);
  });
  g.append("line").attr("x1", p.x0).attr("x2", p.x0).attr("y1", R + 160).attr("y2", R + 208)
    .attr("stroke", "#000").attr("stroke-width", 1.4);

  // ranked list metric
  var area = d3.area().x(function(d) { return x(d[0]); })
    .y0(yM(0)).y1(function(d) { return yM(d[1]); })
    .curve(d3.curveMonotoneX);
  g.append("path").datum(p.metric).attr("d", area).attr("fill", "#BEBEBE");

  var am = g.append("g").attr("transform", "translate(" + p.x0 + ",0)")
    .call(d3.axisLeft(yM).tickValues(p.rankTicks)
      .tickFormat(function(v) { return fmtTick(v, 1); })
      .tickSizeOuter(0).tickSize(3).tickPadding(4));
  styleAxis(am);

  var ax = g.append("g").attr("transform", "translate(0," + (R + 305) + ")")
    .call(d3.axisBottom(x).tickValues(rankTicksX).tickFormat(d3.format("d"))
      .tickSizeOuter(0).tickSize(3).tickPadding(3));
  styleAxis(ax);

  // gene name
  g.append("text").attr("x", (p.x0 + x1) / 2).attr("y", R + (p.col ? 240 : 250))
    .attr("text-anchor", "middle").attr("font-size", 14.5).attr("fill", "#000")
    .text(geneNames[p.row]);

  // axis titles
  var tx = p.col ? 401 : 24;
  g.append("text").attr("transform", "translate(" + tx + "," + (R + 97) + ") rotate(-90)")
    .attr("text-anchor", "middle").attr("dominant-baseline", "central")
    .attr("font-size", 14.5).text("Running Enrichment Score");
  g.append("text").attr("transform", "translate(" + tx + "," + (R + 257) + ") rotate(-90)")
    .attr("text-anchor", "middle").attr("dominant-baseline", "central")
    .attr("font-size", 14.5).text("Ranked List Metric");
  g.append("text").attr("x", p.col ? 598 : 209).attr("y", R + 334)
    .attr("text-anchor", "middle").attr("font-size", 14.5).text("Rank in Ordered Dataset");
});

// column headers and row letters
svg.selectAll("text.head").data(diseases).join("text").attr("class", "head")
  .attr("x", function(d, i) { return i ? 573 : 193; }).attr("y", 14)
  .attr("text-anchor", "middle").attr("font-size", 15).attr("font-weight", "bold").text(function(d) { return d; });
svg.selectAll("text.letter").data(rowLetters).join("text").attr("class", "letter")
  .attr("x", 2).attr("y", function(d, i) { return 28 + i * 340; })
  .attr("font-size", 15).attr("font-weight", "bold").text(function(d) { return d; });

</script>
</body>
</html>
